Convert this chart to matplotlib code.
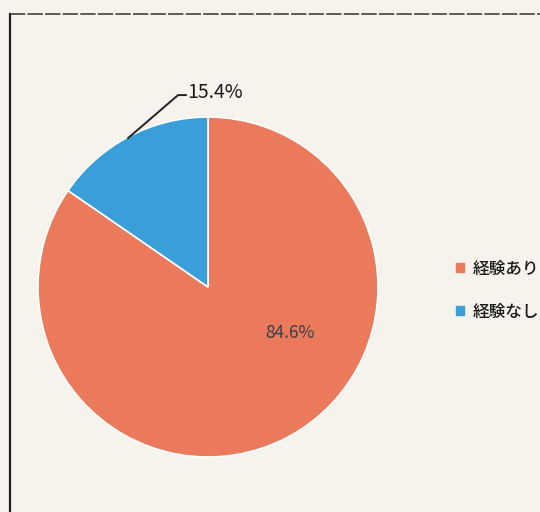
import matplotlib
matplotlib.use("Agg")
import matplotlib.pyplot as plt
from matplotlib.lines import Line2D

plt.rcParams['font.family'] = ['Noto Sans CJK JP', 'DejaVu Sans']

categories = ["経験あり", "経験なし"]
values = [84.6, 15.4]
colors = ["#EA7A5B", "#3A9FD8"]
bg = "#F6F2EC"

W, H = 540, 512
fig = plt.figure(figsize=(W / 100, H / 100), dpi=100, facecolor=bg)

# frame
fig.add_artist(Line2D([10 / W, 10 / W], [1 - 14 / H, -0.05], color="#222222", lw=1.6, transform=fig.transFigure))
fig.add_artist(Line2D([10 / W, 1.05], [1 - 14 / H, 1 - 14 / H], color="#333333", lw=1.1, ls=(0, (10, 1.5)), transform=fig.transFigure))

cx, cy, r = 208, 287, 170
ax = fig.add_axes([(cx - r) / W, 1 - (cy + r) / H, 2 * r / W, 2 * r / H])
ax.set_facecolor("none")
wedges, _ = ax.pie(values, colors=colors, startangle=90, counterclock=False,
                   radius=1, wedgeprops=dict(edgecolor="white", linewidth=1.2))
ax.set_xlim(-1, 1)
ax.set_ylim(-1, 1)
ax.set_aspect("equal")
ax.axis("off")

# labels
ax.text(0.48, -0.27, f"{values[0]}%", fontsize=12.5, color="#3a3f4a", ha="center", va="center")
ax.plot([-0.47, -0.176, -0.13], [0.876, 1.129, 1.129], color="#222222", lw=1.4, clip_on=False)
ax.text(-0.12, 1.147, f"{values[1]}%", fontsize=14, color="#1a1a1a", ha="left", va="center", clip_on=False)

# legend
leg = fig.legend(handles=[plt.Rectangle((0, 0), 1, 1, color=c) for c in colors], labels=categories,
                 loc="center left", bbox_to_anchor=(441 / W, 1 - 290 / H), frameon=False,
                 fontsize=12, handlelength=0.5, handleheight=0.5, handletextpad=0.5, labelspacing=1.5,
                 prop=dict(size=12, weight="medium"))
for t in leg.get_texts():
    t.set_color("#1a1a1a")

fig.savefig("out.png", dpi=100, facecolor=bg)
